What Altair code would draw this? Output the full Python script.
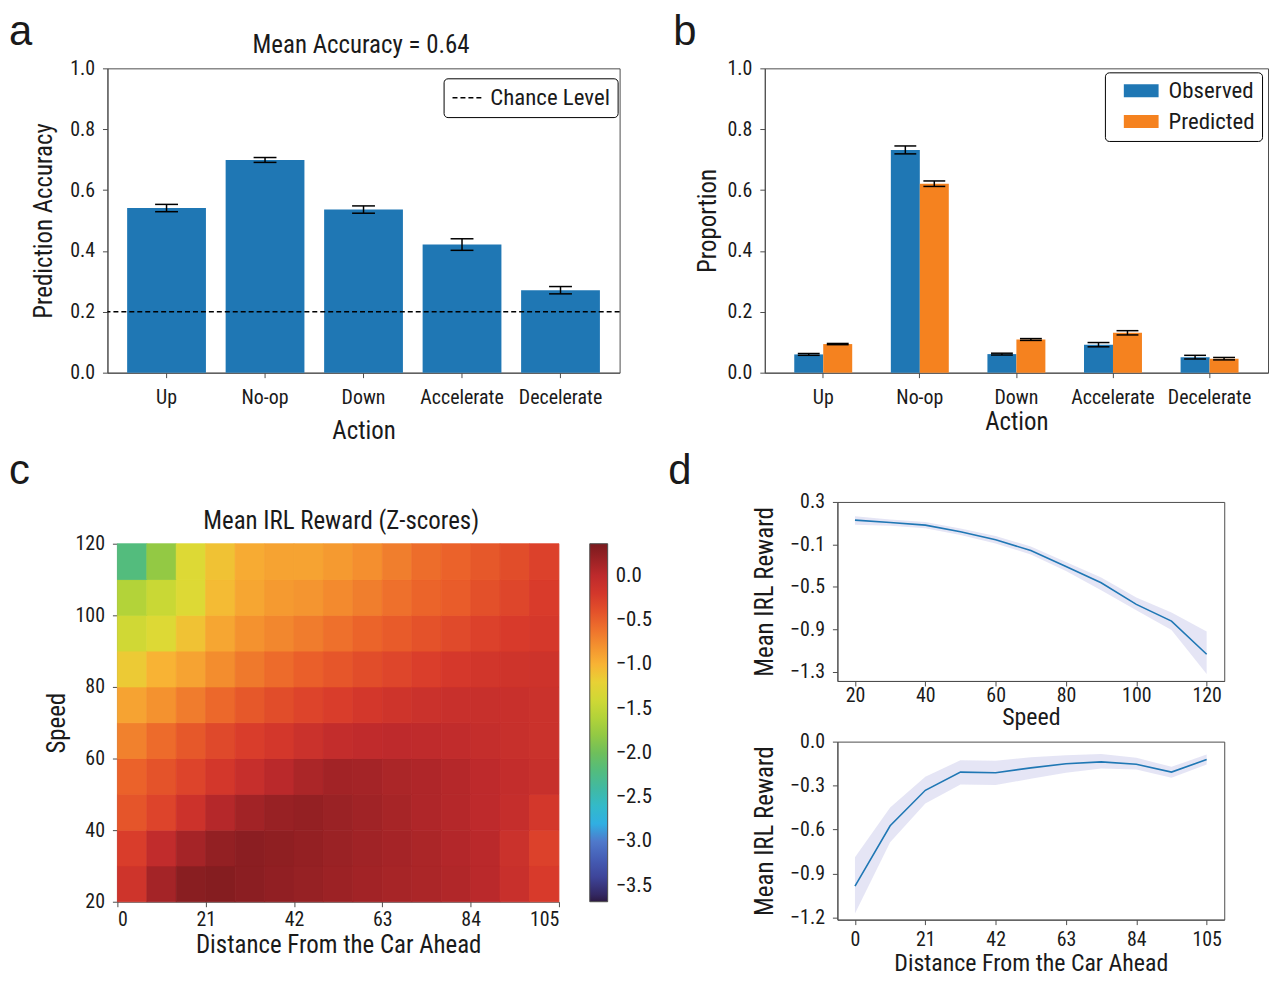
import altair as alt
import pandas as pd

# ---------------- data ----------------
ACTIONS = ["Up", "No-op", "Down", "Accelerate", "Decelerate"]
ACC_MEAN = [0.541, 0.699, 0.536, 0.421, 0.271]
ACC_ERR = [0.012, 0.008, 0.012, 0.019, 0.012]
CHANCE_LEVEL = [0.2]
CHANCE_LABEL = ["Chance Level"]
TITLE_A = "Mean Accuracy = 0.64"

SERIES = ["Observed", "Predicted"]
OBS_MEAN = [0.060, 0.732, 0.061, 0.092, 0.051]
OBS_ERR = [0.003, 0.013, 0.003, 0.007, 0.006]
PRED_MEAN = [0.094, 0.621, 0.109, 0.131, 0.046]
PRED_ERR = [0.002, 0.009, 0.003, 0.007, 0.004]
Y_TICKS_AB = [0.0, 0.2, 0.4, 0.6, 0.8, 1.0]

TITLE_C = "Mean IRL Reward (Z-scores)"
DIST_EDGES = [0, 7, 14, 21, 28, 35, 42, 49, 56, 63, 70, 77, 84, 91, 98, 105]
SPEED_EDGES = [20, 30, 40, 50, 60, 70, 80, 90, 100, 110, 120]
# rows: speed bins from 20-30 (bottom) up to 110-120 (top); columns: distance bins
REWARD_GRID = [
    [-0.15, 0.14, 0.28, 0.30, 0.27, 0.24, 0.21, 0.18, 0.15, 0.12, 0.10, 0.07, 0.02, -0.10, -0.25],
    [-0.27, -0.03, 0.13, 0.23, 0.27, 0.25, 0.22, 0.19, 0.16, 0.13, 0.10, 0.06, 0.02, -0.12, -0.30],
    [-0.43, -0.32, -0.13, 0.05, 0.15, 0.20, 0.22, 0.19, 0.16, 0.12, 0.08, 0.05, 0.00, -0.07, -0.20],
    [-0.52, -0.42, -0.32, -0.20, -0.08, 0.02, 0.10, 0.15, 0.14, 0.10, 0.08, 0.05, 0.00, -0.05, -0.09],
    [-0.70, -0.57, -0.45, -0.35, -0.27, -0.20, -0.12, -0.05, -0.02, 0.00, -0.01, -0.03, -0.06, -0.09, -0.12],
    [-0.90, -0.80, -0.67, -0.55, -0.45, -0.38, -0.32, -0.27, -0.20, -0.15, -0.12, -0.10, -0.09, -0.10, -0.12],
    [-1.15, -1.00, -0.90, -0.77, -0.65, -0.57, -0.50, -0.44, -0.38, -0.33, -0.28, -0.22, -0.18, -0.15, -0.14],
    [-1.40, -1.30, -1.10, -0.92, -0.80, -0.73, -0.67, -0.60, -0.53, -0.47, -0.41, -0.36, -0.30, -0.25, -0.22],
    [-1.60, -1.45, -1.30, -1.05, -0.92, -0.85, -0.82, -0.75, -0.68, -0.60, -0.53, -0.48, -0.40, -0.33, -0.26],
    [-2.20, -1.80, -1.30, -1.10, -0.95, -0.90, -0.90, -0.85, -0.78, -0.68, -0.58, -0.52, -0.45, -0.38, -0.30],
]
CBAR_TICKS = [0.0, -0.5, -1.0, -1.5, -2.0, -2.5, -3.0, -3.5]
DIST_TICKS = [0, 21, 42, 63, 84, 105]
SPEED_TICKS = [20, 40, 60, 80, 100, 120]

SPEED_PTS = [20, 30, 40, 50, 60, 70, 80, 90, 100, 110, 120]
SPEED_MEAN = [0.129, 0.106, 0.082, 0.019, -0.055, -0.158, -0.308, -0.461, -0.664, -0.822, -1.134]
SPEED_LO = [0.085, 0.076, 0.052, -0.012, -0.090, -0.195, -0.350, -0.530, -0.720, -0.905, -1.320]
SPEED_HI = [0.165, 0.136, 0.112, 0.050, -0.020, -0.120, -0.265, -0.410, -0.600, -0.740, -0.920]
D1_YTICKS = [0.3, -0.1, -0.5, -0.9, -1.3]

DIST_PTS = [0, 10.5, 21, 31.5, 42, 52.5, 63, 73.5, 84, 94.5, 105]
DIST_MEAN = [-0.985, -0.574, -0.332, -0.208, -0.212, -0.179, -0.151, -0.138, -0.154, -0.208, -0.122]
DIST_LO = [-1.173, -0.687, -0.422, -0.292, -0.296, -0.253, -0.212, -0.183, -0.190, -0.246, -0.156]
DIST_HI = [-0.789, -0.450, -0.239, -0.127, -0.130, -0.106, -0.093, -0.084, -0.110, -0.172, -0.088]
D2_YTICKS = [0.0, -0.3, -0.6, -0.9, -1.2]

# ---------------- style ----------------
FONT = "Roboto Condensed, Liberation Sans Narrow, Liberation Sans, Arial, sans-serif"
LETTER_FONT = "Liberation Sans, Arial, sans-serif"
BLUE = "#1f77b4"
ORANGE = "#f5821f"
AXC = "#4d4d4d"
TXT = "#1a1a1a"
CMAP_STOPS = [-3.68, -3.5, -3.25, -3.0, -2.75, -2.5, -2.25, -2.0, -1.75, -1.5,
              -1.25, -1.0, -0.75, -0.5, -0.25, 0.0, 0.36]
CMAP_COLORS = ["#2c1a42", "#3b3a8c", "#4356b0", "#4f79cb", "#28bde8", "#3ab8b5",
               "#4cbb85", "#6fbf5b", "#9ccb3e", "#c2d835", "#e4d935", "#f8b334",
               "#f38a2e", "#ea5f2a", "#d83a2b", "#be2a2c", "#7a1a1e"]


def label_text(txt, x, y, size, font, align="left"):
    return alt.Chart(pd.DataFrame({"t": [txt]})).mark_text(
        font=font, fontSize=size, align=align, baseline="alphabetic", color=TXT
    ).encode(text="t:N", x=alt.value(x), y=alt.value(y))


def letter(ch, x, y):
    return label_text(ch, x, y, 42, LETTER_FONT)


# ---------------- panel a ----------------
dfa = pd.DataFrame({"action": ACTIONS, "acc": ACC_MEAN, "err": ACC_ERR})
dfa["lo"] = dfa["acc"] - dfa["err"]
dfa["hi"] = dfa["acc"] + dfa["err"]

ya_scale = alt.Scale(domain=[0, 1], nice=False)
ya_axis = alt.Axis(title="Prediction Accuracy", values=Y_TICKS_AB, format=".1f",
                   labelPadding=8, titlePadding=13)
xa = alt.X("action:N", sort=ACTIONS, scale=alt.Scale(paddingInner=0.2, paddingOuter=0.2),
           axis=alt.Axis(title="Action", labelAngle=0, labelPadding=10, titlePadding=11,
                         labelOverlap=False))

bars_a = alt.Chart(dfa).mark_bar(color=BLUE, opacity=1).encode(
    x=xa, y=alt.Y("acc:Q", scale=ya_scale, axis=ya_axis))
chance_a = alt.Chart(pd.DataFrame({"level": CHANCE_LEVEL, "label": CHANCE_LABEL})).mark_rule(
    color="black", strokeWidth=1.5).encode(
    y=alt.Y("level:Q", scale=ya_scale, axis=ya_axis),
    strokeDash=alt.StrokeDash(
        "label:N", scale=alt.Scale(domain=CHANCE_LABEL, range=[[5, 3]]),
        legend=alt.Legend(title=None, orient="none", legendX=338, legendY=10,
                          symbolType="M-1.35,0L1.35,0", symbolSize=529,
                          symbolStrokeWidth=1.5, symbolStrokeColor="black",
                          symbolOffset=5, labelOffset=10, labelFontSize=23,
                          labelColor=TXT, strokeColor="black", cornerRadius=4,
                          padding=7, fillColor="white")))
err_a = alt.Chart(dfa).mark_rule(color="black", strokeWidth=1.5).encode(
    x=xa, y=alt.Y("lo:Q", scale=ya_scale, axis=ya_axis), y2="hi:Q")
caplo_a = alt.Chart(dfa).mark_tick(color="black", size=23, thickness=1.5, opacity=1).encode(
    x=xa, y=alt.Y("lo:Q", scale=ya_scale, axis=ya_axis))
caphi_a = alt.Chart(dfa).mark_tick(color="black", size=23, thickness=1.5, opacity=1).encode(
    x=xa, y=alt.Y("hi:Q", scale=ya_scale, axis=ya_axis))

panel_a = alt.layer(
    bars_a, chance_a, err_a, caplo_a, caphi_a,
    letter("a", -99, -23),
    label_text(TITLE_A, 255, -15, 25, FONT, align="center"),
).properties(width=515, height=306)

# ---------------- panel b ----------------
dfb = pd.DataFrame({
    "action": ACTIONS * 2,
    "series": [SERIES[0]] * 5 + [SERIES[1]] * 5,
    "val": OBS_MEAN + PRED_MEAN,
    "err": OBS_ERR + PRED_ERR,
})
dfb["lo"] = dfb["val"] - dfb["err"]
dfb["hi"] = dfb["val"] + dfb["err"]

yb_scale = alt.Scale(domain=[0, 1], nice=False)
yb_axis = alt.Axis(title="Proportion", values=Y_TICKS_AB, format=".1f",
                   labelPadding=8, titlePadding=7)
xb = alt.X("action:N", sort=ACTIONS, scale=alt.Scale(paddingInner=0.4, paddingOuter=0.305),
           axis=alt.Axis(title="Action", labelAngle=0, labelPadding=10, titlePadding=2,
                         labelOverlap=False))
xob = alt.XOffset("series:N", sort=SERIES,
                  scale=alt.Scale(domain=SERIES, paddingInner=0, paddingOuter=0))

bars_b = alt.Chart(dfb).mark_bar(opacity=1).encode(
    x=xb, xOffset=xob, y=alt.Y("val:Q", scale=yb_scale, axis=yb_axis),
    color=alt.Color("series:N", scale=alt.Scale(domain=SERIES, range=[BLUE, ORANGE]),
                    legend=alt.Legend(title=None, orient="none", legendX=1003, legendY=4,
                                      symbolType="M-1.52,-0.565L1.52,-0.565L1.52,0.565L-1.52,0.565Z",
                                      symbolSize=529, symbolStrokeWidth=0, symbolOffset=18,
                                      labelOffset=16, labelFontSize=23, labelColor=TXT,
                                      rowPadding=7, strokeColor="black", cornerRadius=4,
                                      padding=7, fillColor="white")))
err_b = alt.Chart(dfb).mark_rule(color="black", strokeWidth=1.5).encode(
    x=xb, xOffset=xob, y=alt.Y("lo:Q", scale=yb_scale, axis=yb_axis), y2="hi:Q")
caplo_b = alt.Chart(dfb).mark_tick(color="black", size=22, thickness=1.5, opacity=1).encode(
    x=xb, xOffset=xob, y=alt.Y("lo:Q", scale=yb_scale, axis=yb_axis))
caphi_b = alt.Chart(dfb).mark_tick(color="black", size=22, thickness=1.5, opacity=1).encode(
    x=xb, xOffset=xob, y=alt.Y("hi:Q", scale=yb_scale, axis=yb_axis))

panel_b = alt.layer(bars_b, err_b, caplo_b, caphi_b, letter("b", -92, -23)).properties(
    width=506, height=306)

# ---------------- panel c ----------------
cells = []
for i in range(len(SPEED_EDGES) - 1):
    for j in range(len(DIST_EDGES) - 1):
        cells.append({"d0": DIST_EDGES[j], "d1": DIST_EDGES[j + 1],
                      "s0": SPEED_EDGES[i], "s1": SPEED_EDGES[i + 1],
                      "r": REWARD_GRID[i][j]})
dfc = pd.DataFrame(cells)

cscale = alt.Scale(domain=CMAP_STOPS, range=CMAP_COLORS, interpolate="rgb")
heat = alt.Chart(dfc).mark_rect(strokeWidth=0.8).encode(
    x=alt.X("d0:Q", scale=alt.Scale(domain=[0, 105], range=[10, 454], nice=False, zero=False),
            axis=alt.Axis(title="Distance From the Car Ahead", values=DIST_TICKS,
                          labelPadding=3, titlePadding=3)),
    x2="d1:Q",
    y=alt.Y("s0:Q", scale=alt.Scale(domain=[20, 120], range=[402, 42], nice=False, zero=False),
            axis=alt.Axis(title="Speed", values=SPEED_TICKS, offset=-10,
                          labelPadding=8, titlePadding=6)),
    y2="s1:Q",
    color=alt.Color("r:Q", scale=cscale,
                    legend=alt.Legend(title=None, orient="none", legendX=485, legendY=42,
                                      direction="vertical", gradientLength=360,
                                      gradientThickness=18, values=CBAR_TICKS, format=".1f",
                                      labelOffset=8, labelFontSize=21, labelColor=TXT,
                                      labelOverlap=False, gradientStrokeColor=AXC,
                                      gradientStrokeWidth=1, padding=0)),
    stroke=alt.Stroke("r:Q", scale=cscale, legend=None),
)
panel_c = alt.layer(
    heat,
    letter("c", -99, -18),
    label_text(TITLE_C, 235, 27, 25, FONT, align="center"),
).properties(width=454, height=402, view=alt.ViewBackground(strokeOpacity=0))

# ---------------- panel d ----------------
dfd1 = pd.DataFrame({"speed": SPEED_PTS, "mean": SPEED_MEAN, "lo": SPEED_LO, "hi": SPEED_HI})
xd1 = alt.X("speed:Q", scale=alt.Scale(domain=[15, 125], nice=False, zero=False),
            axis=alt.Axis(title="Speed", values=SPEED_TICKS, labelPadding=0, titlePadding=0,
                          titleFontSize=24))
yd1_scale = alt.Scale(domain=[-1.385, 0.3], nice=False, zero=False)
yd1_axis = alt.Axis(title="Mean IRL Reward", values=D1_YTICKS, format=".1f",
                    labelPadding=8, titlePadding=12)
band1 = alt.Chart(dfd1).mark_area(color="#7f7fcc", opacity=0.2).encode(
    x=xd1, y=alt.Y("lo:Q", scale=yd1_scale, axis=yd1_axis), y2="hi:Q")
line1 = alt.Chart(dfd1).mark_line(color=BLUE, strokeWidth=1.6).encode(
    x=xd1, y=alt.Y("mean:Q", scale=yd1_scale, axis=yd1_axis))
panel_d1 = alt.layer(band1, line1, letter("d", -170, -18)).properties(width=389, height=180)

dfd2 = pd.DataFrame({"dist": DIST_PTS, "mean": DIST_MEAN, "lo": DIST_LO, "hi": DIST_HI})
xd2 = alt.X("dist:Q", scale=alt.Scale(domain=[-5.25, 110.25], nice=False, zero=False),
            axis=alt.Axis(title="Distance From the Car Ahead", values=DIST_TICKS,
                          labelPadding=5, titlePadding=2, titleFontSize=24))
yd2_scale = alt.Scale(domain=[-1.214, 0.0], nice=False, zero=False)
yd2_axis = alt.Axis(title="Mean IRL Reward", values=D2_YTICKS, format=".1f",
                    labelPadding=8, titlePadding=12)
band2 = alt.Chart(dfd2).mark_area(color="#7f7fcc", opacity=0.2).encode(
    x=xd2, y=alt.Y("lo:Q", scale=yd2_scale, axis=yd2_axis), y2="hi:Q")
line2 = alt.Chart(dfd2).mark_line(color=BLUE, strokeWidth=1.6).encode(
    x=xd2, y=alt.Y("mean:Q", scale=yd2_scale, axis=yd2_axis))
panel_d2 = alt.layer(band2, line2).properties(width=389, height=179)

# ---------------- layout ----------------
row1 = alt.hconcat(panel_a, panel_b, spacing=51)
dcol = alt.vconcat(panel_d1, panel_d2, spacing=0)
row2 = alt.hconcat(panel_c, dcol, spacing=108)

chart = alt.vconcat(row1, row2, spacing=5).properties(padding=0).configure(
    font=FONT
).configure_view(
    stroke=AXC, strokeWidth=1
).configure_axis(
    domainColor=AXC, tickColor=AXC, labelColor=TXT, titleColor=TXT,
    labelFont=FONT, titleFont=FONT, labelFontSize=20, titleFontSize=25,
    titleFontWeight="normal", grid=False, tickSize=5, domainWidth=1, tickWidth=1
).configure_legend(
    labelFont=FONT, labelColor=TXT, labelLimit=400
).configure_title(
    font=FONT, fontWeight="normal"
)

chart.save("out.html", embed_options={"renderer": "svg", "actions": False})
